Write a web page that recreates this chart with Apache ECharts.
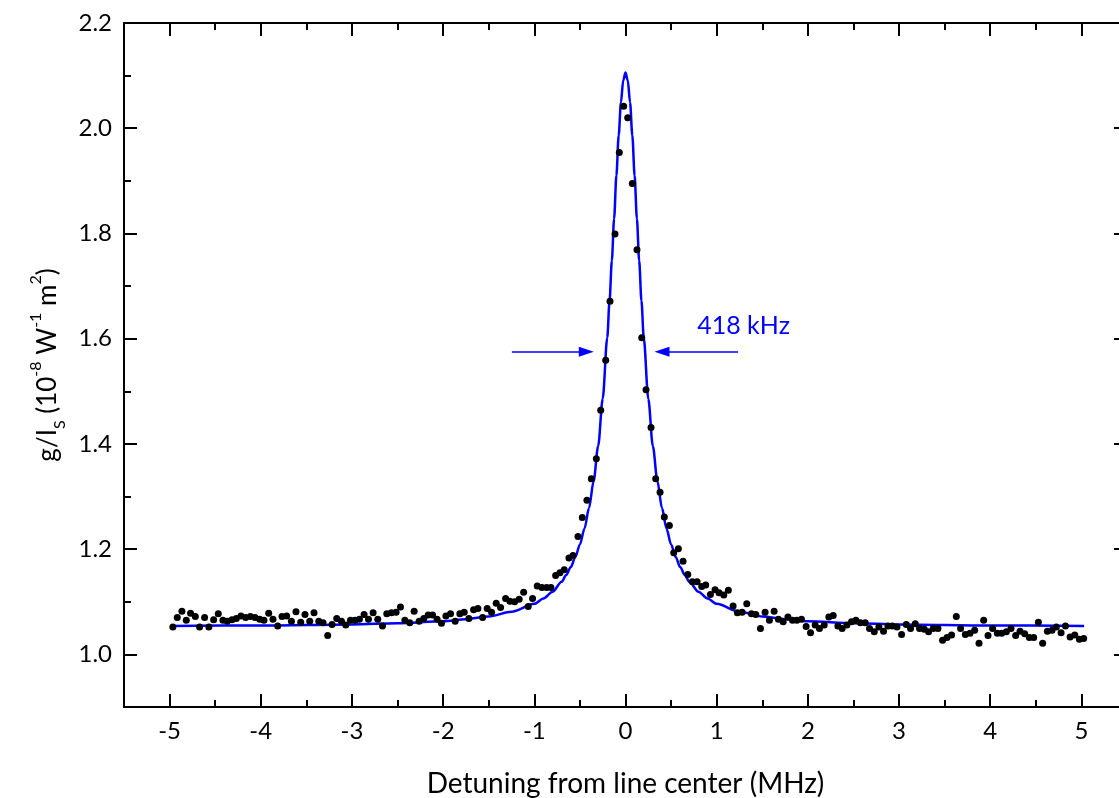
<!DOCTYPE html>
<html>
<head>
<meta charset="utf-8">
<script src="https://cdn.jsdelivr.net/npm/echarts@6/dist/echarts.min.js"></script>
<style>
html,body{margin:0;padding:0;background:#fff;}
#chart{width:1119px;height:798px;}
</style>
</head>
<body>
<div id="chart"></div>
<script>
// Measured data points: detuning (MHz)
const dataX = [
-4.964,-4.916,-4.865,-4.817,-4.770,-4.718,-4.671,-4.616,-4.569,-4.517,-4.466,-4.415,-4.367,-4.316,-4.268,-4.217,-4.166,-4.114,-4.063,-4.012,
-3.965,-3.913,-3.866,-3.814,-3.767,-3.716,-3.664,-3.614,-3.562,-3.515,-3.463,-3.416,-3.364,-3.317,-3.266,-3.218,-3.167,-3.115,-3.068,-3.016,
-2.966,-2.918,-2.867,-2.819,-2.768,-2.717,-2.665,-2.618,-2.567,-2.516,-2.468,-2.420,-2.366,-2.318,-2.263,-2.212,-2.164,-2.116,-2.066,-2.018,
-1.970,-1.919,-1.868,-1.817,-1.769,-1.718,-1.666,-1.619,-1.567,-1.517,-1.469,-1.418,-1.370,-1.315,-1.268,-1.216,-1.166,-1.117,-1.067,-1.019,
-0.968,-0.917,-0.865,-0.818,-0.766,-0.719,-0.672,-0.620,-0.576,-0.521,-0.474,-0.423,-0.375,-0.320,-0.272,-0.217,-0.170,-0.115,-0.068,-0.020,
0.024,0.075,0.126,0.178,0.225,0.280,0.331,0.379,0.426,0.481,0.529,0.580,0.631,0.683,0.733,0.785,0.836,0.880,0.931,0.982,
1.026,1.078,1.128,1.180,1.227,1.279,1.330,1.381,1.429,1.480,1.531,1.578,1.630,1.677,1.729,1.781,1.831,1.879,1.930,1.981,
2.029,2.080,2.127,2.179,2.230,2.278,2.329,2.376,2.428,2.479,2.527,2.577,2.629,2.676,2.728,2.779,2.830,2.878,2.925,2.977,
3.028,3.079,3.126,3.178,3.225,3.277,3.324,3.375,3.427,3.477,3.526,3.576,3.628,3.675,3.727,3.778,3.829,3.877,3.928,3.976,
4.026,4.078,4.125,4.177,4.228,4.279,4.327,4.378,4.429,4.477,4.528,4.575,4.627,4.678,4.725,4.777,4.825,4.876,4.927,4.978,
5.025
];
// Measured data points: g/Is (10^-8 W^-1 m^2)
const dataY = [
1.052,1.070,1.082,1.065,1.078,1.072,1.052,1.070,1.052,1.066,1.077,1.065,1.063,1.066,1.068,1.073,1.070,1.072,1.070,1.067,
1.065,1.078,1.067,1.054,1.072,1.073,1.063,1.081,1.061,1.076,1.063,1.079,1.063,1.060,1.036,1.057,1.068,1.063,1.056,1.065,
1.065,1.067,1.076,1.067,1.079,1.067,1.054,1.077,1.079,1.080,1.090,1.065,1.060,1.082,1.063,1.068,1.075,1.075,1.067,1.059,
1.073,1.077,1.063,1.077,1.080,1.068,1.085,1.087,1.070,1.087,1.080,1.097,1.089,1.106,1.101,1.100,1.105,1.118,1.091,1.106,
1.130,1.127,1.127,1.127,1.150,1.155,1.161,1.183,1.188,1.224,1.260,1.293,1.334,1.372,1.464,1.559,1.671,1.799,1.954,2.042,
2.020,1.895,1.769,1.602,1.503,1.431,1.334,1.308,1.261,1.245,1.193,1.201,1.177,1.152,1.138,1.138,1.129,1.132,1.114,1.123,
1.117,1.113,1.122,1.092,1.079,1.080,1.096,1.077,1.076,1.049,1.080,1.065,1.082,1.067,1.062,1.071,1.065,1.065,1.067,1.053,
1.041,1.056,1.049,1.056,1.071,1.074,1.054,1.049,1.056,1.062,1.065,1.060,1.060,1.049,1.043,1.052,1.044,1.054,1.054,1.052,
1.038,1.057,1.049,1.058,1.049,1.048,1.043,1.049,1.049,1.027,1.032,1.037,1.072,1.049,1.038,1.040,1.046,1.021,1.065,1.036,
1.049,1.040,1.040,1.043,1.049,1.036,1.044,1.039,1.032,1.032,1.061,1.021,1.044,1.046,1.052,1.041,1.054,1.033,1.037,1.029,
1.030
];
// Fit curve
const fitX = [-4.98,-4.0,-3.0,-2.5,-2.0,-1.75,-1.5,-1.25,-1.0,-0.9,-0.8,-0.7,-0.65,-0.6,-0.55,-0.5,-0.45,-0.4,-0.35,-0.3,-0.25,-0.2,-0.175,-0.15,-0.125,-0.1,-0.075,-0.05,-0.025,
0,0.025,0.05,0.075,0.1,0.125,0.15,0.175,0.2,0.25,0.3,0.35,0.4,0.45,0.5,0.55,0.6,0.65,0.7,0.8,0.9,1.0,1.25,1.5,1.75,2.0,2.5,3.0,4.0,5.03];
const fitY = [1.054,1.055,1.057,1.059,1.063,1.067,1.072,1.081,1.096,1.106,1.119,1.138,1.151,1.166,1.185,1.209,1.239,1.278,1.329,1.396,1.486,1.602,1.672,1.748,1.828,1.910,1.986,2.049,2.091,
2.106,2.091,2.049,1.986,1.910,1.828,1.748,1.672,1.602,1.486,1.396,1.329,1.278,1.239,1.209,1.185,1.166,1.151,1.138,1.119,1.106,1.096,1.081,1.072,1.067,1.063,1.059,1.057,1.055,1.054];

// Axis ticks
const xMajorTicks = [-5,-4,-3,-2,-1,0,1,2,3,4,5];
const xMinorTicks = [-5.5,-4.5,-3.5,-2.5,-1.5,-0.5,0.5,1.5,2.5,3.5,4.5,5.5];
const yMajorTicks = [1.0,1.2,1.4,1.6,1.8,2.0,2.2];
const yMinorTicks = [0.9,1.1,1.3,1.5,1.7,1.9,2.1];
const xRange = [-5.5, 5.5];
const yRange = [0.9, 2.2];

// Annotation (FWHM arrows and label)
const arrowLeft = [[-1.246, 1.575], [-0.43, 1.575]];
const arrowRight = [[1.235, 1.575], [0.40, 1.575]];
const fwhmLabel = '418 kHz';
const fwhmLabelPos = [1.295, 1.625];

const FONT = 'Lato';
const BLUE = '#0000ff';

const chart = echarts.init(document.getElementById('chart'), null, {renderer: 'canvas'});

function xAxisBase(pos, major, show) {
  return {
    type: 'value', position: pos, min: xRange[0], max: xRange[1],
    axisLine: {show: show, onZero: false, lineStyle: {color: '#000', width: 2}},
    axisTick: {show: true, inside: true, length: major ? 13 : 7, customValues: major ? xMajorTicks : xMinorTicks,
      lineStyle: {color: '#000', width: 2}},
    axisLabel: {show: false},
    splitLine: {show: false}
  };
}
function yAxisBase(pos, major, show) {
  return {
    type: 'value', position: pos, min: yRange[0], max: yRange[1],
    axisLine: {show: show, onZero: false, lineStyle: {color: '#000', width: 2}},
    axisTick: {show: true, inside: true, length: major ? 13 : 7, customValues: major ? yMajorTicks : yMinorTicks,
      lineStyle: {color: '#000', width: 2}},
    axisLabel: {show: false},
    splitLine: {show: false}
  };
}

const xMain = xAxisBase('bottom', true, true);
xMain.axisLabel = {show: true, customValues: xMajorTicks, margin: 12, color: '#000', fontFamily: FONT, fontSize: 24,
  formatter: v => String(Math.round(v))};
xMain.name = 'Detuning from line center (MHz)';
xMain.nameLocation = 'middle';
xMain.nameGap = 63;
xMain.nameTextStyle = {color: '#000', fontFamily: FONT, fontSize: 28};

const yMain = yAxisBase('left', true, true);
yMain.axisLabel = {show: true, customValues: yMajorTicks, margin: 12, color: '#000', fontFamily: FONT, fontSize: 24,
  formatter: v => v.toFixed(1)};
yMain.name = '{a|g/I}{sub|S}{a| (10}{sup|-8}{a| W}{sup|-1}{a| m}{sup|2}{a|)}';
yMain.nameLocation = 'middle';
yMain.nameGap = 55;
yMain.nameTextStyle = {color: '#000', fontFamily: FONT, fontSize: 26,
  rich: {
    a: {fontFamily: FONT, fontSize: 26, color: '#000', lineHeight: 40, verticalAlign: 'middle'},
    sup: {fontFamily: FONT, fontSize: 16, color: '#000', lineHeight: 16, verticalAlign: 'top'},
    sub: {fontFamily: FONT, fontSize: 16, color: '#000', lineHeight: 16, verticalAlign: 'bottom'}
  }};

const option = {
  backgroundColor: '#fff',
  animation: false,
  grid: {left: 124, top: 23, width: 1003, height: 684, outerBoundsMode: 'none', containLabel: false},
  xAxis: [xMain, xAxisBase('bottom', false, false), xAxisBase('top', true, true), xAxisBase('top', false, false)],
  yAxis: [yMain, yAxisBase('left', false, false), yAxisBase('right', true, true), yAxisBase('right', false, false)],
  series: [
    {
      type: 'line', xAxisIndex: 0, yAxisIndex: 0,
      data: fitX.map((x, i) => [x, fitY[i]]),
      showSymbol: false, smooth: 0.3, smoothMonotone: 'x',
      lineStyle: {color: BLUE, width: 2.5, opacity: 1},
      itemStyle: {color: BLUE, opacity: 1},
      silent: true, z: 2,
      markLine: {
        silent: true, animation: false,
        symbol: ['none', 'triangle'], symbolSize: [10, 15],
        lineStyle: {color: BLUE, width: 1.5, type: 'solid', opacity: 1},
        itemStyle: {color: BLUE, opacity: 1},
        label: {show: false},
        emphasis: {disabled: true},
        data: [
          [{coord: arrowLeft[0]}, {coord: arrowLeft[1]}],
          [{coord: arrowRight[0]}, {coord: arrowRight[1]}]
        ]
      }
    },
    {
      type: 'scatter', xAxisIndex: 0, yAxisIndex: 0,
      data: dataX.map((x, i) => [x, dataY[i]]),
      symbol: 'circle', symbolSize: 7,
      itemStyle: {color: '#000', opacity: 1},
      silent: true, z: 3
    },
    {
      type: 'scatter', xAxisIndex: 0, yAxisIndex: 0,
      data: [fwhmLabelPos], symbolSize: 0, silent: true, z: 4,
      itemStyle: {color: BLUE, opacity: 1},
      label: {show: true, position: 'inside', formatter: fwhmLabel, color: BLUE, opacity: 1, fontFamily: FONT, fontSize: 25}
    }
  ]
};
chart.setOption(option);
</script>
</body>
</html>
